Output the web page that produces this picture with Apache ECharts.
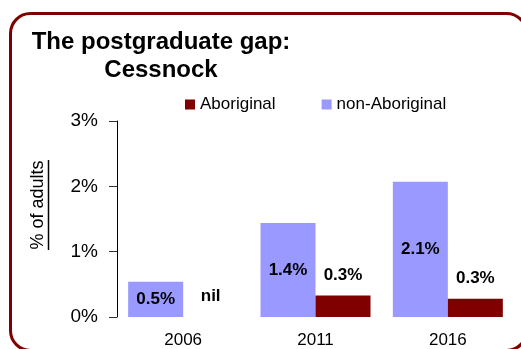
<!DOCTYPE html>
<html>
<head>
<meta charset="utf-8">
<script src="https://cdn.jsdelivr.net/npm/echarts@6/dist/echarts.min.js"></script>
<style>
  html, body { margin: 0; padding: 0; background: #fff; }
  #chart { width: 521px; height: 349px; }
</style>
</head>
<body>
<div id="chart"></div>
<script>
// Census years
const years = ['2006', '2011', '2016'];
// Share of adults holding a postgraduate qualification (%)
const nonAboriginal = [0.54, 1.44, 2.07];
const aboriginal = [0, 0.33, 0.28];
const yTicks = ['0%', '1%', '2%', '3%'];

const FONT = 'Liberation Sans, Arial, sans-serif';
const chart = echarts.init(document.getElementById('chart'), null, { renderer: 'canvas' });

chart.setOption({
  animation: false,
  backgroundColor: '#ffffff',
  textStyle: { fontFamily: FONT },
  title: {
    text: 'The postgraduate gap:\nCessnock',
    left: 156,
    top: 23,
    textAlign: 'center',
    textStyle: { fontFamily: FONT, fontSize: 24, fontWeight: 'bold', color: '#000', lineHeight: 28 }
  },
  legend: {
    data: ['Aboriginal', 'non-Aboriginal'],
    left: 180,
    top: 91,
    icon: 'rect',
    itemWidth: 10,
    itemHeight: 10,
    itemGap: 46,
    textStyle: { fontFamily: FONT, fontSize: 17, color: '#000', padding: [0, 0, 0, 0] }
  },
  grid: { left: 117, right: 7, top: 121, bottom: 28.5, containLabel: false },
  xAxis: {
    type: 'category',
    data: years,
    axisLine: { show: false },
    axisTick: { show: false },
    axisLabel: { fontFamily: FONT, fontSize: 17, color: '#000', margin: 15 }
  },
  yAxis: {
    type: 'value',
    min: 0,
    max: 3,
    interval: 1,
    axisLine: { show: true, lineStyle: { color: '#000', width: 1 } },
    axisTick: { show: true, length: 8, lineStyle: { color: '#333' } },
    splitLine: { show: false },
    axisLabel: {
      fontFamily: FONT, fontSize: 19, color: '#000', margin: 19,
      formatter: function (v) { return yTicks[Math.round(v)]; }
    }
  },
  series: [
    {
      name: 'non-Aboriginal',
      type: 'bar',
      data: nonAboriginal,
      barWidth: 55,
      barGap: '0%',
      itemStyle: { color: '#9999FF' },
      label: {
        show: true,
        position: 'inside',
        fontFamily: FONT, fontSize: 17, fontWeight: 'bold', color: '#000',
        formatter: function (p) { return p.value.toFixed(1) + '%'; }
      }
    },
    {
      name: 'Aboriginal',
      type: 'bar',
      data: aboriginal,
      barWidth: 55,
      barGap: '0%',
      itemStyle: { color: '#800000' },
      label: {
        show: true,
        position: 'top',
        distance: 12,
        fontFamily: FONT, fontSize: 17, fontWeight: 'bold', color: '#000',
        formatter: function (p) { return p.value === 0 ? 'nil' : p.value.toFixed(1) + '%'; }
      }
    }
  ],
  graphic: [
    {
      type: 'rect',
      silent: true,
      shape: { x: 10.5, y: 13.5, width: 516, height: 337, r: 20 },
      style: { fill: 'none', stroke: '#800000', lineWidth: 3 }
    },
    {
      // rotated y-axis title
      type: 'text',
      silent: true,
      x: 38,
      y: 205,
      rotation: Math.PI / 2,
      style: {
        text: '% of adults',
        fontFamily: FONT, fontSize: 18, fill: '#000',
        align: 'center', verticalAlign: 'middle'
      }
    },
    {
      // underline beneath the axis title
      type: 'line',
      silent: true,
      shape: { x1: 48.5, y1: 160, x2: 48.5, y2: 250 },
      style: { stroke: '#000', lineWidth: 1.5 }
    }
  ]
});
</script>
</body>
</html>
